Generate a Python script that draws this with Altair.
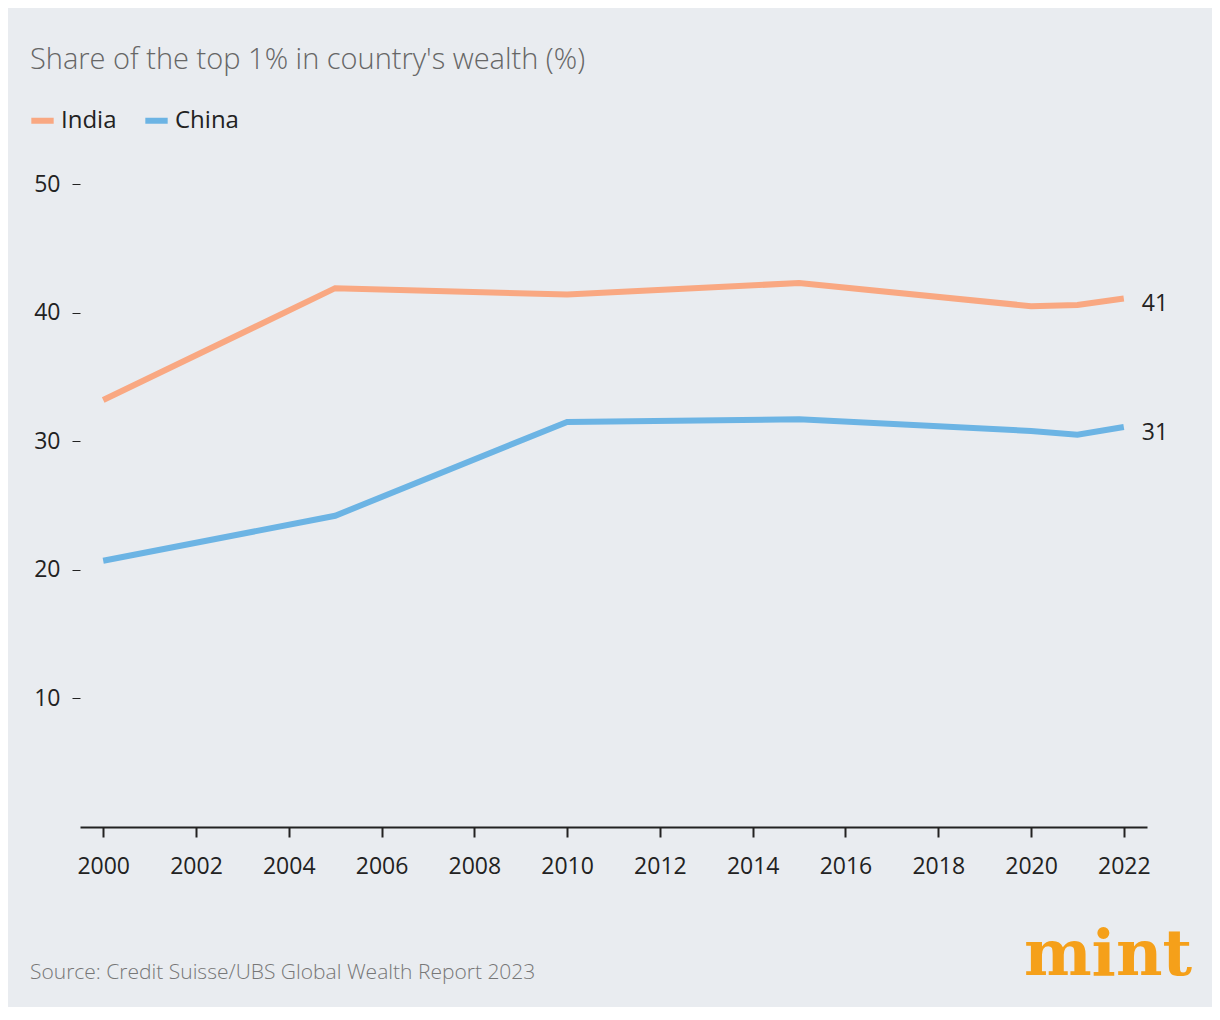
import altair as alt
import pandas as pd

years = [2000, 2005, 2010, 2015, 2020, 2021, 2022]
india = [33.2, 41.9, 41.4, 42.3, 40.5, 40.6, 41.1]
china = [20.7, 24.2, 31.5, 31.7, 30.8, 30.5, 31.1]

df = pd.concat([
    pd.DataFrame({"year": years, "share": india, "country": "India"}),
    pd.DataFrame({"year": years, "share": china, "country": "China"}),
])
last = df[df["year"] == 2022].copy()
last["label"] = last["share"].round().astype(int).astype(str)

FONT = "Open Sans"
colors = alt.Scale(domain=["India", "China"], range=["#f9a882", "#6cb4e4"])

base = alt.Chart(df).encode(
    x=alt.X("year:Q", scale=alt.Scale(domain=[1999.5, 2022.5], nice=False),
            axis=alt.Axis(values=list(range(2000, 2023, 2)), format="d", title=None,
                          domainColor="#222", domainWidth=2, tickColor="#222", tickWidth=2,
                          tickSize=10, labelFontSize=23, labelColor="#222",
                          labelPadding=18, grid=False)),
    y=alt.Y("share:Q", scale=alt.Scale(domain=[0, 50], nice=False),
            axis=alt.Axis(values=[10, 20, 30, 40, 50], title=None, domain=False,
                          tickColor="#222", tickSize=8, labelFontSize=23,
                          labelColor="#222", labelPadding=12, grid=False)),
)

lines = base.mark_line(strokeWidth=6).encode(
    color=alt.Color("country:N", scale=colors, title=None,
                    legend=alt.Legend(orient="none", legendX=-52, legendY=-78,
                                      direction="horizontal", symbolType="stroke",
                                      symbolStrokeWidth=6, symbolSize=500,
                                      labelFontSize=24, labelColor="#222",
                                      labelFont=FONT, columnPadding=16))
)

ends = alt.Chart(last).mark_text(align="left", dx=18, dy=6, fontSize=23, color="#222", font=FONT).encode(
    x="year:Q", y="share:Q", text="label:N"
)

title = alt.Chart(pd.DataFrame({"t": ["Share of the top 1% in country's wealth (%)"]})).mark_text(
    align="left", baseline="middle", fontSize=29, color="#666", font=FONT, fontWeight=300
).encode(x=alt.value(-50), y=alt.value(-124), text="t:N")

source = alt.Chart(pd.DataFrame({"t": ["Source: Credit Suisse/UBS Global Wealth Report 2023"]})).mark_text(
    align="left", baseline="middle", fontSize=21, color="#777", font=FONT, fontWeight=300
).encode(x=alt.value(-50), y=alt.value(789), text="t:N")

logo = alt.Chart(pd.DataFrame({"t": ["mint"]})).mark_text(
    align="right", baseline="middle", fontSize=64, color="#f5a01a",
    font="DejaVu Serif", fontWeight="bold"
).encode(x=alt.value(1112), y=alt.value(772), text="t:N")

chart = alt.layer(lines, ends, title, source, logo).properties(
    width=1067, height=643, background="#e9ecf0",
    autosize=alt.AutoSizeParams(type="none"),
    padding={"left": 72, "top": 176, "right": 65, "bottom": 180},
).configure_view(stroke=None).configure_axis(labelFont=FONT)

chart.save("out.html", embed_options={"renderer": "svg", "actions": False})
